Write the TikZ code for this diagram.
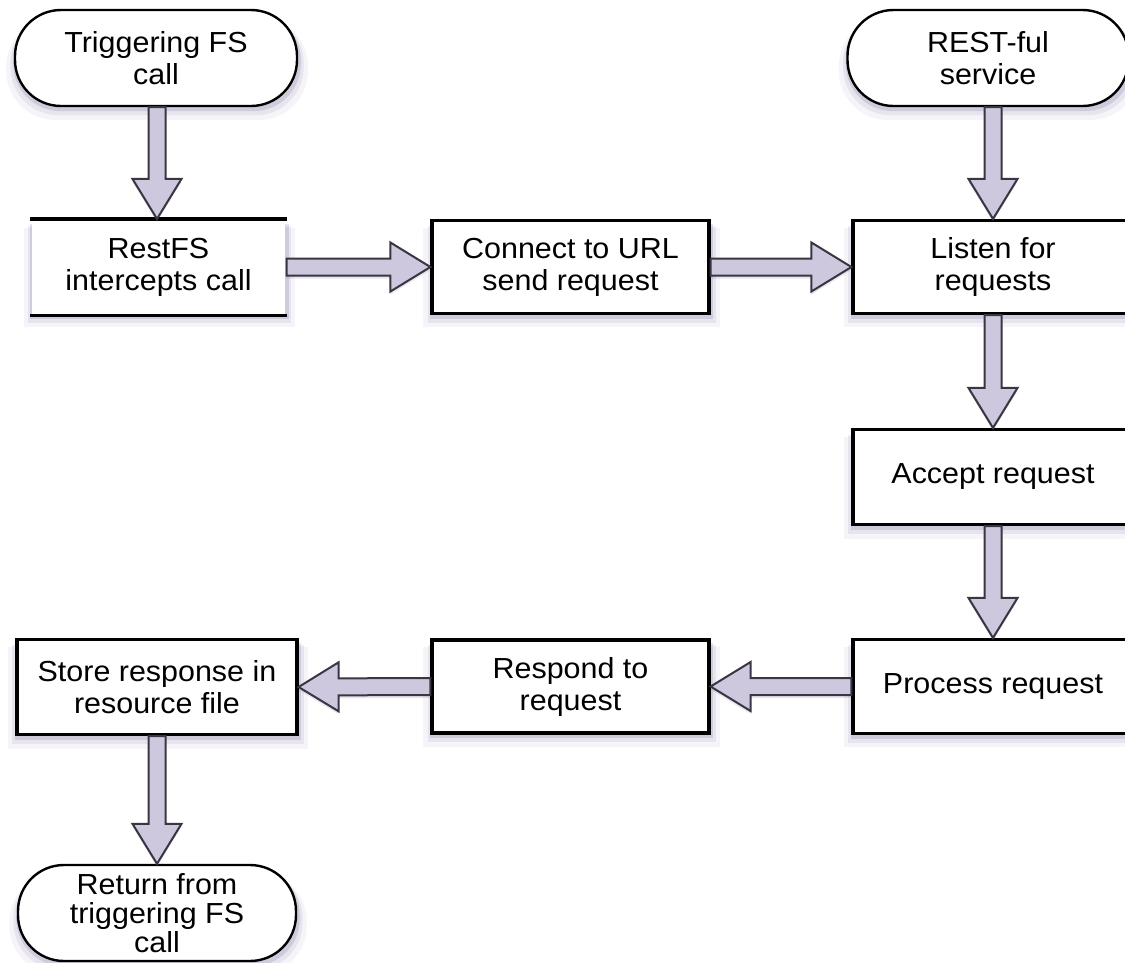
\documentclass[tikz,border=0pt]{standalone}
\usepackage{fontspec}
\setmainfont{Liberation Sans}[FakeStretch=1.05]
\usetikzlibrary{calc,shadows}
\definecolor{arrowfill}{HTML}{CEC8DE}
\definecolor{arrowline}{HTML}{3A3540}
\definecolor{shc}{HTML}{5E4C86}
\tikzset{
  softshadow/.style={
    general shadow={fill=shc, opacity=0.06, shadow xshift=1pt, shadow yshift=-10pt, shadow scale=1.07},
    general shadow={fill=shc, opacity=0.10, shadow xshift=1pt, shadow yshift=-7pt, shadow scale=1.04},
    general shadow={fill=shc, opacity=0.16, shadow xshift=1pt, shadow yshift=-4pt, shadow scale=1.02}},
  stepbox/.style={draw=black, line width=3.2pt, fill=white, minimum width=280pt, minimum height=95pt,
    inner sep=0pt, align=center, font=\fontsize{29}{32}\selectfont, softshadow},
  openbox/.style={stepbox, draw=none},
  termbox/.style={stepbox, rounded corners=46pt, line width=2.4pt},
  fatarrow/.style={draw=arrowline, line width=2pt, fill=arrowfill, line join=miter,
    general shadow={fill=shc, opacity=0.14, shadow yshift=-3pt}}
}
\newcommand\fatarrow[2]{%
  \path (#1) coordinate (fa-s) (#2) coordinate (fa-e);
  \coordinate (fa-h) at ($(fa-e)!40pt!(fa-s)$);
  \draw[fatarrow] ($(fa-s)!8.5pt!90:(fa-e)$) -- ($(fa-h)!8.5pt!90:(fa-e)$)
    -- ($(fa-h)!24.5pt!90:(fa-e)$) -- (fa-e) -- ($(fa-h)!24.5pt!-90:(fa-e)$)
    -- ($(fa-h)!8.5pt!-90:(fa-e)$) -- ($(fa-s)!8.5pt!-90:(fa-e)$) -- cycle;}
\begin{document}
\begin{tikzpicture}[x=1pt,y=-1pt]
\useasboundingbox (0,0) rectangle (1125,962);
\node[termbox, minimum width=282pt, minimum height=96pt] (trig) at (156,58) {Triggering FS\\call};
\node[termbox, minimum width=281pt, minimum height=96pt] (rest) at (988,58) {REST-ful\\service};
\node[openbox, minimum width=253pt, minimum height=93pt] (intc) at (158.5,267) {RestFS\\intercepts call};
\draw[line width=3.2pt] (intc.north west) -- (intc.north east) (intc.south west) -- (intc.south east);
\node[stepbox, minimum width=277pt, minimum height=93pt] (conn) at (570.5,267) {Connect to URL\\send request};
\node[stepbox, minimum height=93pt] (listen) at (993,267) {Listen for\\requests};
\node[stepbox, minimum height=95pt] (accept) at (993,477) {Accept request};
\node[stepbox, minimum height=94pt] (proc) at (993,686.5) {Process request};
\node[stepbox, minimum width=277pt, minimum height=93pt] (resp) at (570.5,686.5) {Respond to\\request};
\node[stepbox, minimum height=95pt] (store) at (157,687) {Store response in\\resource file};
\node[termbox, minimum width=278pt, minimum height=96pt, font=\fontsize{29}{29}\selectfont] (ret) at (157,913) {Return from\\triggering FS\\call};
\fatarrow{trig.south -| store.north}{intc.north -| store.north}
\fatarrow{intc.east}{conn.west}
\fatarrow{conn.east}{listen.west}
\fatarrow{rest.south -| listen.north}{listen.north}
\fatarrow{listen.south}{accept.north}
\fatarrow{accept.south}{proc.north}
\fatarrow{proc.west}{resp.east}
\fatarrow{resp.west}{store.east}
\fatarrow{store.south}{ret.north}
\end{tikzpicture}
\end{document}
